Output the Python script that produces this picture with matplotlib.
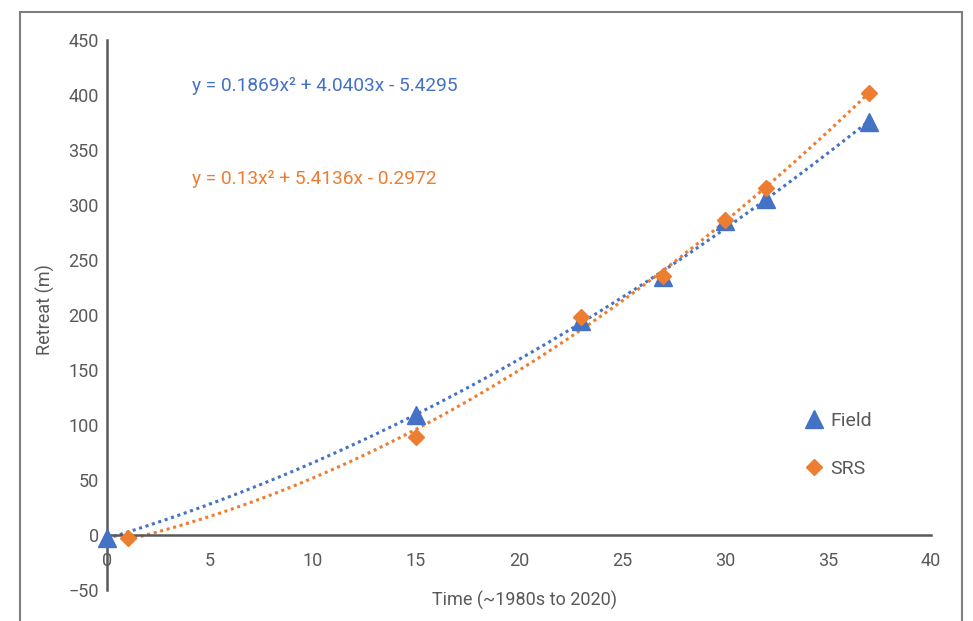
import numpy as np
import matplotlib.pyplot as plt
from matplotlib.patches import Rectangle

plt.rcParams['font.family'] = ['Roboto', 'DejaVu Sans']

# data
field_x = [0, 15, 23, 27, 30, 32, 37]
field_y = [-3, 109, 194, 234, 285, 305, 375]
srs_x = [1, 15, 23, 27, 30, 32, 37]
srs_y = [-3, 89, 198, 235, 286, 315, 402]

eq_field = "y = 0.1869x\u00b2 + 4.0403x - 5.4295"
eq_srs = "y = 0.13x\u00b2 + 5.4136x - 0.2972"

blue = "#4472C4"
orange = "#ED7D31"
grey = "#595959"

fig = plt.figure(figsize=(9.73, 6.21), dpi=100)
ax = fig.add_axes([0.110, 0.050, 0.847, 0.886])

# frame round the whole chart
fig.patches.append(Rectangle((20 / 973, -0.05), 942 / 973, 1.05 - 12 / 621,
                             transform=fig.transFigure, fill=False,
                             edgecolor="#7f7f7f", lw=1.5))

# quadratic trendlines
for xs, ys, c in [(field_x, field_y, blue), (srs_x, srs_y, orange)]:
    p = np.polyfit(xs, ys, 2)
    xx = np.linspace(min(xs), max(xs), 200)
    ax.plot(xx, np.polyval(p, xx), ls=(0, (1, 1.2)), color=c, lw=2.2, clip_on=False)

ax.plot(field_x, field_y, "^", color=blue, ms=13, label="Field", clip_on=False, zorder=5)
ax.plot(srs_x, srs_y, "D", color=orange, ms=8.5, label="SRS", clip_on=False, zorder=5)

ax.set_xlim(0, 40)
ax.set_ylim(-50, 450)
ax.set_xticks(range(0, 41, 5))
ax.set_yticks(range(-50, 451, 50))
ax.set_yticklabels(["\u221250"] + [str(v) for v in range(0, 451, 50)])

for s in ["top", "right"]:
    ax.spines[s].set_visible(False)
ax.spines["bottom"].set_position(("data", 0))
for s in ["left", "bottom"]:
    ax.spines[s].set_color(grey)
    ax.spines[s].set_linewidth(1.8)
ax.tick_params(length=0, labelsize=13, colors=grey)
ax.tick_params(axis="x", pad=12)
ax.tick_params(axis="y", pad=6)

ax.text(4.1, 408, eq_field, color=blue, fontsize=13.8, va="center")
ax.text(4.1, 323, eq_srs, color=orange, fontsize=13.8, va="center")

fig.text(525 / 973, 1 - 600 / 621, "Time (~1980s to 2020)", color=grey,
         fontsize=13, ha="center", va="center")
fig.text(45 / 973, 1 - 310 / 621, "Retreat (m)", color=grey, fontsize=13,
         rotation=90, ha="center", va="center")

ax.legend(loc="upper left", bbox_to_anchor=(0.823, 0.355), frameon=False,
          fontsize=14, labelcolor=grey, handletextpad=0.2, labelspacing=1.55,
          handlelength=1.2)

fig.savefig("out.png", dpi=100)
